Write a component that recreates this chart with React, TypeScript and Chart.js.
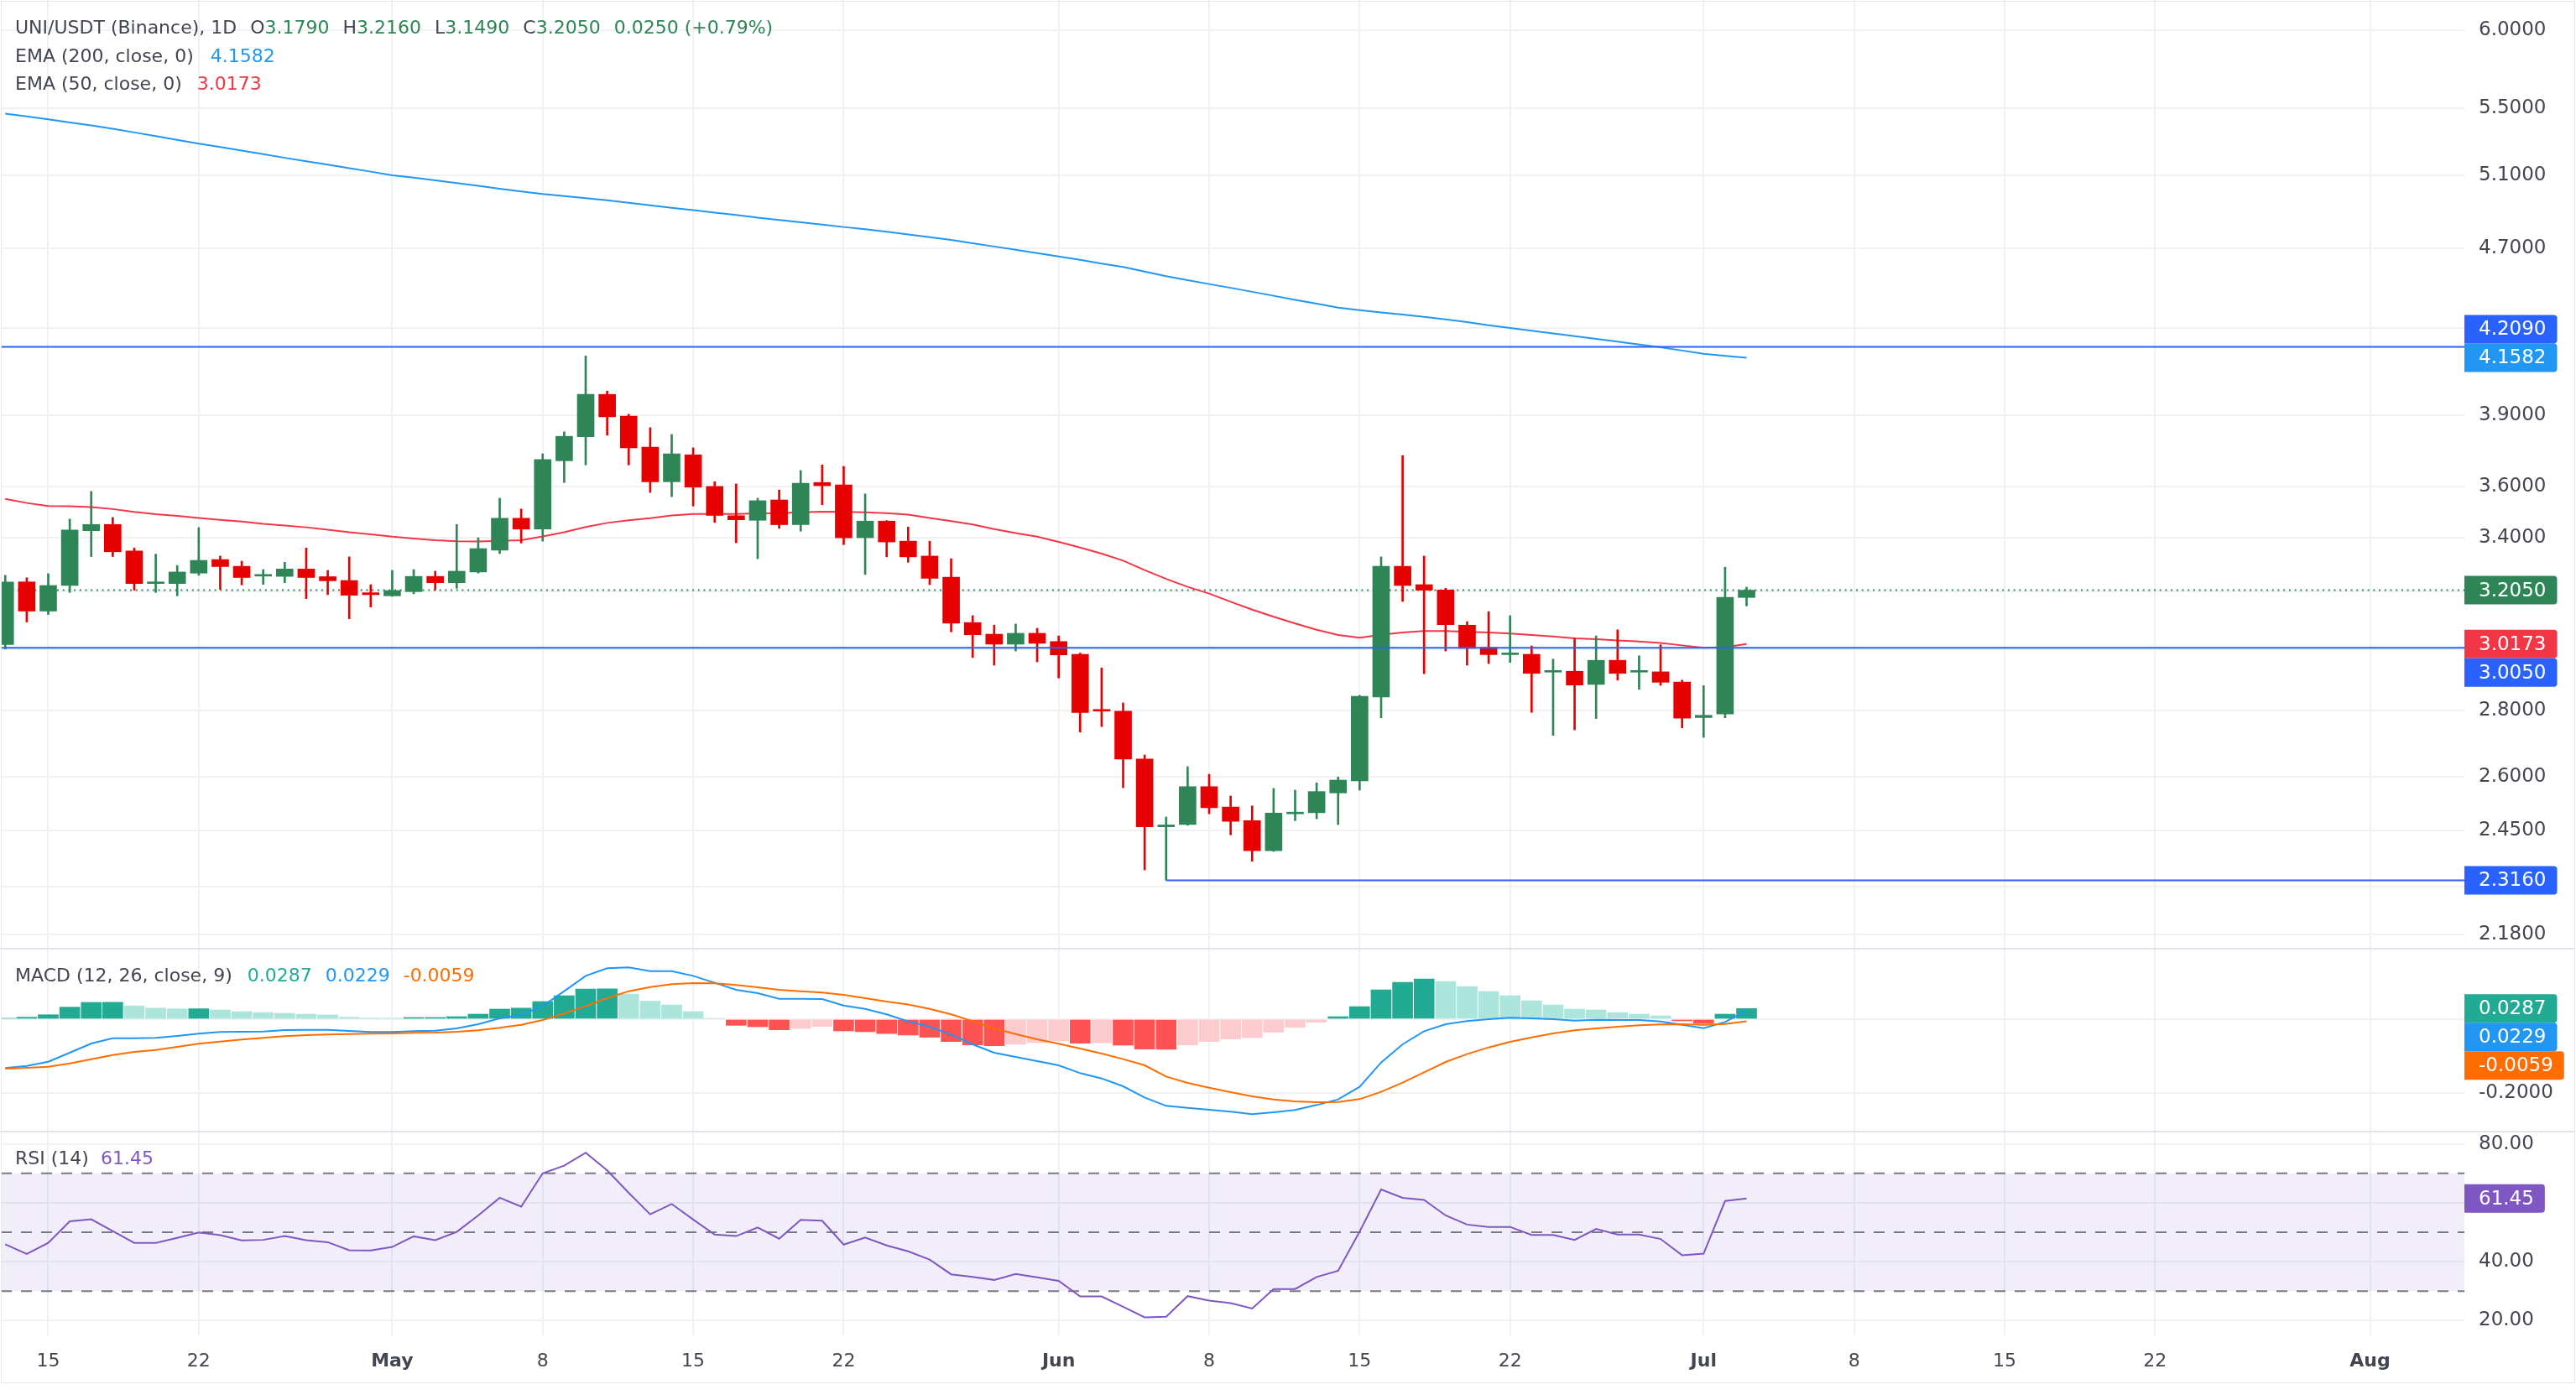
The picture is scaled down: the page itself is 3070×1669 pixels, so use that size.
import React, { useEffect, useRef } from "react";
import { Chart, registerables } from "chart.js";

Chart.register(...registerables);

// ---------- style constants ----------
const FONT = "'DejaVu Sans', 'Liberation Sans', sans-serif";
const TEXT = "#434651";
const GRID = "#f0f1f4";
const SEP = "#e0e3eb";
const GREEN = "#2e8555";
const RED = "#e60000";
const EMA50_COLOR = "#f23645";
const EMA200_COLOR = "#2196f3";
const LEVEL_COLOR = "#2962ff";
const MACD_COLOR = "#2196f3";
const SIGNAL_COLOR = "#ff6d00";
const HIST_UP = "#22ab94";
const HIST_UP_LIGHT = "#ace5dc";
const HIST_DN = "#ff5252";
const HIST_DN_LIGHT = "#fccbcd";
const RSI_COLOR = "#7e57c2";

const AXIS_W = 133;
const X_MIN = -0.205;
const X_MAX = 114.39;

// ---------- data (day index 0 = Apr 13) ----------
const SYMBOL = "UNI/USDT (Binance), 1D";

const OPEN = [
  3.016, 3.235, 3.131, 3.222, 3.426, 3.45, 3.349, 3.229, 3.229, 3.267,
  3.317, 3.292, 3.256, 3.255, 3.282, 3.254, 3.24, 3.196, 3.185, 3.2,
  3.255, 3.232, 3.271, 3.352, 3.474, 3.432, 3.705, 3.806, 3.991, 3.895,
  3.762, 3.619, 3.73, 3.6, 3.484, 3.466, 3.546, 3.449, 3.616, 3.606,
  3.399, 3.463, 3.386, 3.33, 3.252, 3.091, 3.051, 3.017, 3.054, 3.026,
  2.983, 2.804, 2.799, 2.653, 2.459, 2.465, 2.572, 2.514, 2.476, 2.394,
  2.495, 2.498, 2.554, 2.589, 2.844, 3.292, 3.225, 3.206, 3.082, 3.006,
  2.982, 2.983, 2.924, 2.927, 2.884, 2.963, 2.924, 2.925, 2.892, 2.779,
  2.79, 3.179,
];
const HIGH = [
  3.259, 3.25, 3.265, 3.471, 3.58, 3.477, 3.36, 3.337, 3.295, 3.438,
  3.33, 3.311, 3.28, 3.307, 3.36, 3.277, 3.327, 3.225, 3.277, 3.28,
  3.274, 3.45, 3.399, 3.553, 3.51, 3.734, 3.827, 4.167, 4.006, 3.903,
  3.845, 3.816, 3.759, 3.619, 3.61, 3.553, 3.586, 3.665, 3.688, 3.682,
  3.57, 3.465, 3.44, 3.386, 3.32, 3.115, 3.082, 3.086, 3.071, 3.045,
  2.987, 2.938, 2.825, 2.665, 2.486, 2.63, 2.608, 2.545, 2.517, 2.567,
  2.562, 2.583, 2.6, 2.849, 3.327, 3.727, 3.33, 3.212, 3.094, 3.129,
  3.115, 3.011, 2.967, 3.037, 3.045, 3.066, 2.978, 3.015, 2.898, 2.88,
  3.289, 3.216,
];
const LOW = [
  3.001, 3.093, 3.119, 3.197, 3.328, 3.328, 3.205, 3.197, 3.185, 3.259,
  3.208, 3.224, 3.226, 3.232, 3.175, 3.189, 3.104, 3.145, 3.183, 3.192,
  3.206, 3.212, 3.267, 3.339, 3.379, 3.386, 3.616, 3.688, 3.813, 3.688,
  3.576, 3.559, 3.522, 3.458, 3.38, 3.32, 3.435, 3.424, 3.527, 3.373,
  3.262, 3.327, 3.307, 3.225, 3.059, 2.972, 2.947, 2.994, 2.958, 2.905,
  2.734, 2.751, 2.569, 2.343, 2.316, 2.463, 2.495, 2.437, 2.366, 2.392,
  2.476, 2.481, 2.465, 2.562, 2.778, 3.165, 2.919, 2.994, 2.947, 2.952,
  2.956, 2.795, 2.724, 2.741, 2.776, 2.898, 2.868, 2.881, 2.747, 2.718,
  2.778, 3.149,
];
const CLOSE = [
  3.235, 3.131, 3.222, 3.429, 3.45, 3.346, 3.229, 3.235, 3.271, 3.314,
  3.291, 3.251, 3.262, 3.282, 3.251, 3.239, 3.187, 3.189, 3.204, 3.255,
  3.232, 3.274, 3.358, 3.474, 3.432, 3.71, 3.808, 3.991, 3.892, 3.759,
  3.619, 3.734, 3.597, 3.485, 3.468, 3.543, 3.449, 3.613, 3.603, 3.399,
  3.463, 3.383, 3.327, 3.248, 3.089, 3.049, 3.017, 3.054, 3.02, 2.981,
  2.795, 2.799, 2.653, 2.459, 2.464, 2.572, 2.512, 2.474, 2.394, 2.497,
  2.499, 2.558, 2.591, 2.846, 3.292, 3.222, 3.205, 3.084, 3.003, 2.982,
  2.987, 2.92, 2.929, 2.882, 2.963, 2.92, 2.929, 2.891, 2.777, 2.786,
  3.18, 3.205,
];
const EMA50 = [
  3.55, 3.534, 3.522, 3.521, 3.518, 3.51, 3.499, 3.49, 3.483, 3.475,
  3.468, 3.461, 3.452, 3.446, 3.439, 3.43, 3.42, 3.412, 3.403, 3.396,
  3.39, 3.386, 3.385, 3.387, 3.39, 3.404, 3.42, 3.44, 3.456, 3.466,
  3.474, 3.485, 3.491, 3.491, 3.491, 3.493, 3.494, 3.497, 3.5, 3.499,
  3.497, 3.494, 3.488, 3.475, 3.463, 3.45, 3.432, 3.417, 3.403, 3.383,
  3.362, 3.339, 3.313, 3.278, 3.246, 3.217, 3.193, 3.164, 3.136, 3.111,
  3.088, 3.066, 3.048, 3.039, 3.049, 3.057, 3.062, 3.062, 3.059, 3.057,
  3.053, 3.048, 3.043, 3.037, 3.034, 3.03, 3.026, 3.021, 3.013, 3.005,
  3.007, 3.0173,
];
const EMA200 = [
  5.466, 5.449, 5.431, 5.412, 5.394, 5.374, 5.352, 5.33, 5.307, 5.285,
  5.265, 5.244, 5.223, 5.202, 5.182, 5.162, 5.142, 5.122, 5.101, 5.088,
  5.072, 5.057, 5.041, 5.025, 5.01, 4.995, 4.984, 4.972, 4.96, 4.946,
  4.933, 4.919, 4.906, 4.892, 4.879, 4.865, 4.852, 4.839, 4.827, 4.814,
  4.802, 4.789, 4.774, 4.76, 4.745, 4.727, 4.71, 4.693, 4.675, 4.658,
  4.64, 4.621, 4.603, 4.58, 4.556, 4.536, 4.516, 4.497, 4.477, 4.457,
  4.437, 4.418, 4.398, 4.386, 4.375, 4.364, 4.353, 4.341, 4.328, 4.312,
  4.299, 4.286, 4.273, 4.26, 4.247, 4.234, 4.22, 4.207, 4.192, 4.177,
  4.167, 4.1582,
];
const MACD_LINE = [
  -0.1326, -0.1265, -0.1152, -0.0909, -0.0659, -0.0515, -0.0515, -0.0508, -0.0455, -0.0394,
  -0.0348, -0.0341, -0.0333, -0.0295, -0.0288, -0.0288, -0.0318, -0.0348, -0.0348, -0.0326,
  -0.0311, -0.025, -0.0136, 0.0023, 0.0114, 0.0356, 0.0758, 0.1174, 0.1379, 0.1402,
  0.1303, 0.1303, 0.1174, 0.0985, 0.0795, 0.0705, 0.0553, 0.0553, 0.0545, 0.0371,
  0.028, 0.0129, -0.006, -0.0205, -0.0417, -0.0682, -0.0909, -0.1023, -0.1136, -0.125,
  -0.1462, -0.1606, -0.1818, -0.2121, -0.2348, -0.2402, -0.2455, -0.2508, -0.2576, -0.2523,
  -0.2462, -0.2326, -0.2174, -0.1833, -0.1174, -0.0682, -0.0326, -0.0136, -0.0053, 0.0,
  0.0038, 0.0023, 0.0, -0.0038, -0.0015, -0.0023, -0.0023, -0.0061, -0.0152, -0.0242,
  -0.0076, 0.0229,
];
const SIGNAL_LINE = [
  -0.134, -0.1318, -0.1288, -0.1197, -0.1083, -0.097, -0.0886, -0.0833, -0.075, -0.0667,
  -0.0606, -0.0553, -0.0508, -0.0462, -0.0432, -0.0417, -0.0402, -0.0394, -0.0386, -0.0371,
  -0.0364, -0.0341, -0.0303, -0.0235, -0.0152, -0.0023, 0.0152, 0.0356, 0.0568, 0.0758,
  0.0871, 0.0947, 0.0977, 0.097, 0.0924, 0.0864, 0.0795, 0.0758, 0.072, 0.0659,
  0.0568, 0.0477, 0.04, 0.028, 0.0129, -0.0053, -0.025, -0.0402, -0.0545, -0.0667,
  -0.0795, -0.0932, -0.1083, -0.125, -0.1553, -0.1727, -0.1856, -0.1977, -0.2091, -0.2174,
  -0.2227, -0.225, -0.2242, -0.2167, -0.197, -0.172, -0.1439, -0.1159, -0.0947, -0.0765,
  -0.0614, -0.0492, -0.0386, -0.0303, -0.025, -0.0205, -0.0167, -0.0144, -0.0136, -0.0152,
  -0.0129, -0.0059,
];
const MACD_HIST = [
  0.0023, 0.0053, 0.012, 0.0326, 0.0455, 0.0458, 0.036, 0.03, 0.028, 0.0283,
  0.025, 0.0205, 0.018, 0.016, 0.0136, 0.0114, 0.0053, 0.003, 0.0028, 0.0045,
  0.0046, 0.0068, 0.0136, 0.0273, 0.03, 0.0477, 0.0636, 0.0818, 0.0822, 0.068,
  0.049, 0.0386, 0.0205, 0.0023, -0.0167, -0.0205, -0.0288, -0.025, -0.0197, -0.0318,
  -0.034, -0.039, -0.043, -0.049, -0.0606, -0.0697, -0.072, -0.068, -0.0636, -0.059,
  -0.065, -0.0642, -0.0705, -0.081, -0.0818, -0.0697, -0.0606, -0.0538, -0.05, -0.0356,
  -0.022, -0.0083, 0.0068, 0.034, 0.0795, 0.1, 0.109, 0.102, 0.0886, 0.075,
  0.0636, 0.05, 0.0386, 0.0273, 0.025, 0.018, 0.0136, 0.009, -0.0045, -0.0114,
  0.0136, 0.0287,
];
const RSI = [
  45.9, 42.6, 46.4, 53.7, 54.4, 50.4, 46.4, 46.4, 48.1, 49.9,
  49.0, 47.2, 47.4, 48.7, 47.3, 46.6, 43.9, 43.8, 45.0, 48.6,
  47.3, 50.1, 55.7, 61.7, 58.7, 70.0, 72.6, 77.0, 71.0, 63.4,
  56.1, 59.6, 54.3, 49.2, 48.7, 51.6, 47.8, 54.2, 53.9, 45.8,
  48.2, 45.5, 43.5, 40.7, 35.7, 34.8, 33.8, 35.8, 34.7, 33.5,
  28.2, 28.2, 24.7, 21.1, 21.3, 28.3, 26.8, 25.9, 24.1, 30.7,
  30.7, 34.8, 36.9, 50.2, 64.5, 61.7, 61.0, 55.7, 52.6, 51.8,
  51.8, 49.1, 49.1, 47.4, 51.1, 49.2, 49.2, 47.7, 42.2, 42.7,
  60.6, 61.45,
];

// levels drawn on the chart
const RESISTANCE = 4.209;
const PIVOT = 3.005;
const SUPPORT = 2.316;
const SUPPORT_START_DAY = 54;

// axes
const PRICE_MIN = 2.1471;
const PRICE_MAX = 6.2077;
const PRICE_TICKS = [6.0, 5.5, 5.1, 4.7, 4.3, 3.9, 3.6, 3.4, 3.2, 3.0, 2.8, 2.6, 2.45, 2.3, 2.18];
const PRICE_TICKS_HIDDEN = [4.3, 3.2, 3.0, 2.3];
const MACD_MIN = -0.30227;
const MACD_MAX = 0.18864;
const MACD_TICKS = [0, -0.2];
const MACD_TICKS_HIDDEN = [0];
const RSI_MIN = 14.957;
const RSI_MAX = 83.903;
const RSI_TICKS = [80, 60, 40, 20];
const RSI_TICKS_HIDDEN = [60];
const RSI_LEVELS = [70, 50, 30];
const RSI_BAND = [70, 30];

const DATE_TICK_DAYS = [2, 9, 18, 25, 32, 39, 49, 56, 63, 70, 79, 86, 93, 100, 110];
const DATE_TICK_LABELS = ["15", "22", "May", "8", "15", "22", "Jun", "8", "15", "22", "Jul", "8", "15", "22", "Aug"];
const MONTHS = ["May", "Jun", "Jul", "Aug"];

// ---------- helpers ----------
const N = CLOSE.length;
const idx = Array.from({ length: N }, (_, i) => i);
const candleColor = idx.map((i) => (CLOSE[i] >= OPEN[i] ? GREEN : RED));
const histColor = MACD_HIST.map((v, i) => {
  const prev = i > 0 ? MACD_HIST[i - 1] : v - (v >= 0 ? 1 : -1);
  if (v >= 0) return v >= prev ? HIST_UP : HIST_UP_LIGHT;
  return v <= prev ? HIST_DN : HIST_DN_LIGHT;
});

function noPadding(s: any) {
  s.paddingTop = 0;
  s.paddingBottom = 0;
  s.paddingLeft = 0;
  s.paddingRight = 0;
}

function xScale(showLabels: boolean): any {
  return {
    type: "linear",
    min: X_MIN,
    max: X_MAX,
    bounds: "data",
    offset: false,
    grid: { color: GRID, lineWidth: 2, drawTicks: false, offset: false },
    border: { display: false },
    afterBuildTicks: (s: any) => {
      s.ticks = DATE_TICK_DAYS.map((v) => ({ value: v }));
    },
    ticks: {
      display: showLabels,
      autoSkip: false,
      maxRotation: 0,
      minRotation: 0,
      padding: 18,
      color: TEXT,
      font: (ctx: any) => ({
        family: FONT,
        size: 22,
        weight: MONTHS.includes(DATE_TICK_LABELS[ctx.index]) ? "bold" : "normal",
      }),
      callback: (_v: any, i: number) => DATE_TICK_LABELS[i],
    },
    afterFit: (s: any) => {
      s.height = showLabels ? 56 : 0;
      noPadding(s);
    },
  };
}

function yScale(type: string, min: number, max: number, ticks: number[], hidden: number[], digits: number): any {
  return {
    type,
    position: "right",
    min,
    max,
    bounds: "data",
    grid: { color: GRID, lineWidth: 2, drawTicks: false },
    border: { display: false },
    afterBuildTicks: (s: any) => {
      s.ticks = ticks.map((v) => ({ value: v }));
    },
    ticks: {
      autoSkip: false,
      padding: 17,
      color: TEXT,
      font: { family: FONT, size: 23 },
      callback: (v: any) => (hidden.some((h) => Math.abs(h - Number(v)) < 1e-9) ? "" : Number(v).toFixed(digits)),
    },
    afterFit: (s: any) => {
      s.width = AXIS_W;
      noPadding(s);
    },
  };
}

const BOX_H = 34;
const boxLabelsPlugin = {
  id: "boxLabels",
  afterDraw(chart: any, _args: any, opts: any) {
    const items = opts && opts.items;
    if (!items || !items.length) return;
    const ctx = chart.ctx;
    const ys = chart.scales.y;
    const left = chart.chartArea.right;
    ctx.save();
    ctx.font = `23px ${FONT}`;
    ctx.textBaseline = "middle";
    ctx.textAlign = "left";
    const placed: number[] = [];
    for (const it of items) {
      let p = ys.getPixelForValue(it.value);
      for (let guard = 0; guard < 20; guard++) {
        let moved = false;
        for (const q of placed) {
          if (Math.abs(p - q) < BOX_H - 0.01) {
            p = p < q ? q - BOX_H : q + BOX_H;
            moved = true;
          }
        }
        if (!moved) break;
      }
      placed.push(p);
      const tw = ctx.measureText(it.text).width;
      ctx.fillStyle = it.color;
      ctx.beginPath();
      ctx.roundRect(left, p - BOX_H / 2, 17 + tw + 13, BOX_H, [0, 4, 4, 0]);
      ctx.fill();
      ctx.fillStyle = "#ffffff";
      ctx.fillText(it.text, left + 17, p + 1);
    }
    ctx.restore();
  },
};

function baseOptions(extra: any): any {
  return {
    responsive: false,
    maintainAspectRatio: false,
    devicePixelRatio: 1,
    animation: false,
    events: [],
    layout: { padding: { left: 1, right: 0, top: 0, bottom: 0 }, autoPadding: false },
    plugins: { legend: { display: false }, tooltip: { enabled: false }, ...extra.plugins },
    scales: extra.scales,
  };
}

function hLine(y: number, x0: number, color: string, dash: number[] = []): any {
  return {
    type: "line",
    data: [
      { x: x0, y },
      { x: X_MAX, y },
    ],
    borderColor: color,
    borderWidth: 2,
    borderDash: dash,
    pointRadius: 0,
  };
}

function lineSeries(values: number[], color: string): any {
  return {
    type: "line",
    data: values.map((v, i) => ({ x: i, y: v })),
    borderColor: color,
    borderWidth: 2,
    pointRadius: 0,
    tension: 0,
  };
}

// ---------- component ----------
export default function App() {
  const mainRef = useRef<HTMLCanvasElement>(null);
  const macdRef = useRef<HTMLCanvasElement>(null);
  const rsiRef = useRef<HTMLCanvasElement>(null);

  useEffect(() => {
    const last = N - 1;
    const main = new Chart(mainRef.current as HTMLCanvasElement, {
      type: "bar",
      data: {
        datasets: [
          hLine(RESISTANCE, X_MIN, LEVEL_COLOR),
          hLine(PIVOT, X_MIN, LEVEL_COLOR),
          hLine(SUPPORT, SUPPORT_START_DAY, LEVEL_COLOR),
          {
            type: "bar",
            data: idx.map((i) => ({ x: i, y: [OPEN[i], CLOSE[i]] })),
            backgroundColor: candleColor,
            barThickness: 20,
            minBarLength: 2,
            grouped: false,
            borderWidth: 0,
          },
          {
            type: "bar",
            data: idx.map((i) => ({ x: i, y: [LOW[i], HIGH[i]] })),
            backgroundColor: candleColor,
            barThickness: 2,
            grouped: false,
            borderWidth: 0,
          },
          lineSeries(EMA50, EMA50_COLOR),
          lineSeries(EMA200, EMA200_COLOR),
          hLine(CLOSE[last], X_MIN, GREEN, [2, 4.7]),
        ] as any,
      },
      options: baseOptions({
        plugins: {
          boxLabels: {
            items: [
              { value: CLOSE[last], text: CLOSE[last].toFixed(4), color: GREEN },
              { value: EMA200[last], text: EMA200[last].toFixed(4), color: EMA200_COLOR },
              { value: EMA50[last], text: EMA50[last].toFixed(4), color: EMA50_COLOR },
              { value: RESISTANCE, text: RESISTANCE.toFixed(4), color: LEVEL_COLOR },
              { value: PIVOT, text: PIVOT.toFixed(4), color: LEVEL_COLOR },
              { value: SUPPORT, text: SUPPORT.toFixed(4), color: LEVEL_COLOR },
            ],
          },
        },
        scales: {
          x: xScale(false),
          y: yScale("logarithmic", PRICE_MIN, PRICE_MAX, PRICE_TICKS, PRICE_TICKS_HIDDEN, 4),
        },
      }),
      plugins: [boxLabelsPlugin],
    });

    const macd = new Chart(macdRef.current as HTMLCanvasElement, {
      type: "bar",
      data: {
        datasets: [
          lineSeries(SIGNAL_LINE, SIGNAL_COLOR),
          lineSeries(MACD_LINE, MACD_COLOR),
          {
            type: "bar",
            data: idx.map((i) => ({ x: i, y: MACD_HIST[i] })),
            backgroundColor: histColor,
            barThickness: 24,
            grouped: false,
            borderWidth: 0,
          },
        ] as any,
      },
      options: baseOptions({
        plugins: {
          boxLabels: {
            items: [
              { value: MACD_HIST[last], text: MACD_HIST[last].toFixed(4), color: HIST_UP },
              { value: MACD_LINE[last], text: MACD_LINE[last].toFixed(4), color: MACD_COLOR },
              { value: SIGNAL_LINE[last], text: SIGNAL_LINE[last].toFixed(4), color: SIGNAL_COLOR },
            ],
          },
        },
        scales: {
          x: xScale(false),
          y: yScale("linear", MACD_MIN, MACD_MAX, MACD_TICKS, MACD_TICKS_HIDDEN, 4),
        },
      }),
      plugins: [boxLabelsPlugin],
    });

    const rsi = new Chart(rsiRef.current as HTMLCanvasElement, {
      type: "line",
      data: {
        datasets: [
          lineSeries(RSI, RSI_COLOR),
          ...RSI_LEVELS.map((lv) => hLine(lv, X_MIN, "#787b86", [13, 11])),
          {
            type: "line",
            data: [
              { x: X_MIN, y: RSI_BAND[0] },
              { x: X_MAX, y: RSI_BAND[0] },
            ],
            borderWidth: 0,
            pointRadius: 0,
            fill: { value: RSI_BAND[1] },
            backgroundColor: "rgba(126, 87, 194, 0.1)",
          },
        ] as any,
      },
      options: baseOptions({
        plugins: {
          boxLabels: {
            items: [{ value: RSI[last], text: RSI[last].toFixed(2), color: RSI_COLOR }],
          },
        },
        scales: {
          x: xScale(true),
          y: yScale("linear", RSI_MIN, RSI_MAX, RSI_TICKS, RSI_TICKS_HIDDEN, 2),
        },
      }),
      plugins: [boxLabelsPlugin],
    });

    return () => {
      main.destroy();
      macd.destroy();
      rsi.destroy();
    };
  }, []);

  const last = N - 1;
  const change = CLOSE[last] - CLOSE[last - 1];
  const pct = (change / CLOSE[last - 1]) * 100;
  const valColor = CLOSE[last] >= OPEN[last] ? GREEN : RED;

  const line = (top: number): React.CSSProperties => ({
    position: "absolute",
    left: 18,
    top: top - 15,
    height: 30,
    lineHeight: "30px",
    fontSize: 22,
    fontFamily: FONT,
    color: TEXT,
    whiteSpace: "pre",
  });
  const gap = (c: string, ml = 16): React.CSSProperties => ({ color: c, marginLeft: ml });

  return (
    <div
      style={{
        position: "fixed",
        left: 0,
        top: 0,
        width: 3070,
        height: 1669,
        background: "#ffffff",
        overflow: "hidden",
      }}
    >
      <canvas ref={mainRef} width={3070} height={1130} style={{ position: "absolute", left: 0, top: 0, width: 3070, height: 1130 }} />
      <canvas ref={macdRef} width={3070} height={216} style={{ position: "absolute", left: 0, top: 1132, width: 3070, height: 216 }} />
      <canvas ref={rsiRef} width={3070} height={298} style={{ position: "absolute", left: 0, top: 1350, width: 3070, height: 298 }} />

      {/* pane separators and frame */}
      <div style={{ position: "absolute", left: 0, top: 1130, width: 3068, height: 2, background: SEP }} />
      <div style={{ position: "absolute", left: 0, top: 1348, width: 3068, height: 2, background: SEP }} />
      <div
        style={{
          position: "absolute",
          left: 1,
          top: 1,
          width: 3066,
          height: 1646,
          border: "1px solid #e6e8ee",
          pointerEvents: "none",
        }}
      />

      {/* legends */}
      <div style={line(33)}>
        <span>{SYMBOL}</span>
        <span style={gap(TEXT)}>O</span>
        <span style={{ color: valColor }}>{OPEN[last].toFixed(4)}</span>
        <span style={gap(TEXT)}>H</span>
        <span style={{ color: valColor }}>{HIGH[last].toFixed(4)}</span>
        <span style={gap(TEXT)}>L</span>
        <span style={{ color: valColor }}>{LOW[last].toFixed(4)}</span>
        <span style={gap(TEXT)}>C</span>
        <span style={{ color: valColor }}>{CLOSE[last].toFixed(4)}</span>
        <span style={gap(valColor)}>{change.toFixed(4)}</span>
        <span style={{ color: valColor }}>{` (${pct >= 0 ? "+" : ""}${pct.toFixed(2)}%)`}</span>
      </div>
      <div style={line(67)}>
        <span>EMA (200, close, 0)</span>
        <span style={gap(EMA200_COLOR, 20)}>{EMA200[last].toFixed(4)}</span>
      </div>
      <div style={line(100)}>
        <span>EMA (50, close, 0)</span>
        <span style={gap(EMA50_COLOR, 18)}>{EMA50[last].toFixed(4)}</span>
      </div>
      <div style={line(1163)}>
        <span>MACD (12, 26, close, 9)</span>
        <span style={gap(HIST_UP, 18)}>{MACD_HIST[last].toFixed(4)}</span>
        <span style={gap(MACD_COLOR, 16)}>{MACD_LINE[last].toFixed(4)}</span>
        <span style={gap(SIGNAL_COLOR, 16)}>{SIGNAL_LINE[last].toFixed(4)}</span>
      </div>
      <div style={line(1381)}>
        <span>RSI (14)</span>
        <span style={gap(RSI_COLOR, 14)}>{RSI[last].toFixed(2)}</span>
      </div>
    </div>
  );
}
